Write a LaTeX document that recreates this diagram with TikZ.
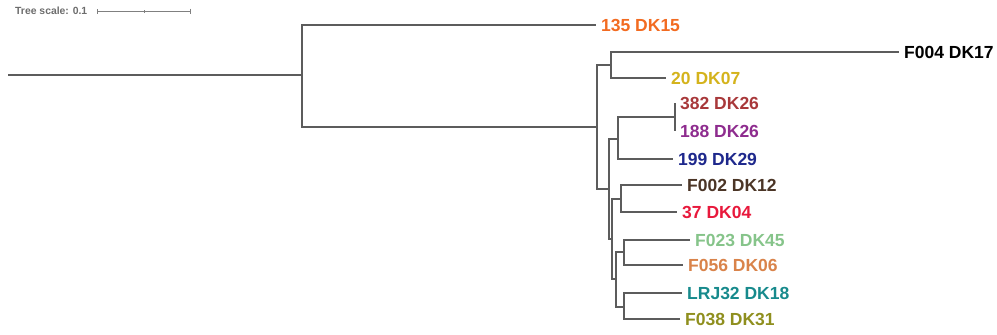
\documentclass[tikz,border=0pt]{standalone}
\usepackage{fontspec}
\setmainfont{Liberation Sans}
\usepackage{tikz}
\usetikzlibrary{arrows.meta}
\definecolor{TreeGray}{HTML}{5C5C5C}
\definecolor{ScaleGray}{HTML}{808080}
\definecolor{LeafOrange}{HTML}{F26B21}
\definecolor{LeafGold}{HTML}{D4B31C}
\definecolor{LeafBrick}{HTML}{A8383A}
\definecolor{LeafPurple}{HTML}{8E2C8E}
\definecolor{LeafNavy}{HTML}{1E288C}
\definecolor{LeafBrown}{HTML}{4B3526}
\definecolor{LeafRed}{HTML}{E8193C}
\definecolor{LeafMint}{HTML}{86C48A}
\definecolor{LeafTan}{HTML}{D9834A}
\definecolor{LeafTeal}{HTML}{178A8C}
\definecolor{LeafOlive}{HTML}{8F8F1E}

\begin{document}
\begin{tikzpicture}[
    x=1pt,y=-1pt,
    branch/.style={draw=TreeGray,line width=1.3pt},
    leaf/.style={anchor=west,inner xsep=5pt,inner ysep=0pt,font=\fontsize{17.5}{20}\selectfont\bfseries},
    scalebar/.style={draw=ScaleGray,line width=0.9pt,{Bar[width=5pt]}-{Bar[width=5pt]}}
  ]
    \useasboundingbox (0,0) rectangle (997,335);

    % tree scale
    \node[anchor=west,inner sep=0pt,text=ScaleGray!85!black,font=\fontsize{10.4}{12}\selectfont\bfseries] (scaletxt) at (15,11) {Tree scale: 0.1};
    \coordinate (bar0) at (97,11);
    \coordinate (barmid) at (144,11);
    \coordinate (bar1) at (191,11);
    \draw[scalebar] (bar0) -- (bar1);
    \draw[draw=ScaleGray,line width=0.9pt] ([yshift=-1.5pt]barmid) -- ([yshift=1.5pt]barmid);

    % internal nodes
    \coordinate (root) at (8,75);
    \coordinate (nA) at (302,75);
    \coordinate (nB) at (597,127);
    \coordinate (nD) at (611,65);
    \coordinate (nF) at (609,189);
    \coordinate (nE) at (618,139);
    \coordinate (nK) at (675,117);
    \coordinate (nH) at (612,239);
    \coordinate (nG) at (621,199);
    \coordinate (nI) at (616,279);
    \coordinate (nJa) at (624,252);
    \coordinate (nJb) at (624,307);

    % leaves
    \node[leaf,text=LeafOrange] (dk15) at (596,25) {135 DK15};
    \node[leaf,text=black] (dk17) at (899,52) {F004 DK17};
    \node[leaf,text=LeafGold] (dk07) at (666,78) {20 DK07};
    \node[leaf,text=LeafBrick] (dk26a) at (675,103) {382 DK26};
    \node[leaf,text=LeafPurple] (dk26b) at (675,131) {188 DK26};
    \node[leaf,text=LeafNavy] (dk29) at (673,159) {199 DK29};
    \node[leaf,text=LeafBrown] (dk12) at (682,185) {F002 DK12};
    \node[leaf,text=LeafRed] (dk04) at (677,212) {37 DK04};
    \node[leaf,text=LeafMint] (dk45) at (690,240) {F023 DK45};
    \node[leaf,text=LeafTan] (dk06) at (683,265) {F056 DK06};
    \node[leaf,text=LeafTeal] (dk18) at (682,293) {LRJ32 DK18};
    \node[leaf,text=LeafOlive] (dk31) at (680,319) {F038 DK31};

    % branches
    \draw[branch] (root) -- (nA);
    \draw[branch] (nA) |- (dk15.west);
    \draw[branch] (nA) |- (nB);
    \draw[branch] (nB) |- (nD);
    \draw[branch] (nB) |- (nF);
    \draw[branch] (nD) |- (dk17.west);
    \draw[branch] (nD) |- (dk07.west);
    \draw[branch] (nF) |- (nE);
    \draw[branch] (nF) |- (nH);
    \draw[branch] (nE) |- (nK);
    \draw[branch] (nE) |- (dk29.west);
    \draw[branch] (nK) |- (dk26a.west);
    \draw[branch] (nK) |- (dk26b.west);
    \draw[branch] (nH) |- (nG);
    \draw[branch] (nH) |- (nI);
    \draw[branch] (nG) |- (dk12.west);
    \draw[branch] (nG) |- (dk04.west);
    \draw[branch] (nI) |- (nJa);
    \draw[branch] (nI) |- (nJb);
    \draw[branch] (nJa) |- (dk45.west);
    \draw[branch] (nJa) |- (dk06.west);
    \draw[branch] (nJb) |- (dk18.west);
    \draw[branch] (nJb) |- (dk31.west);
  \end{tikzpicture}
\end{document}
